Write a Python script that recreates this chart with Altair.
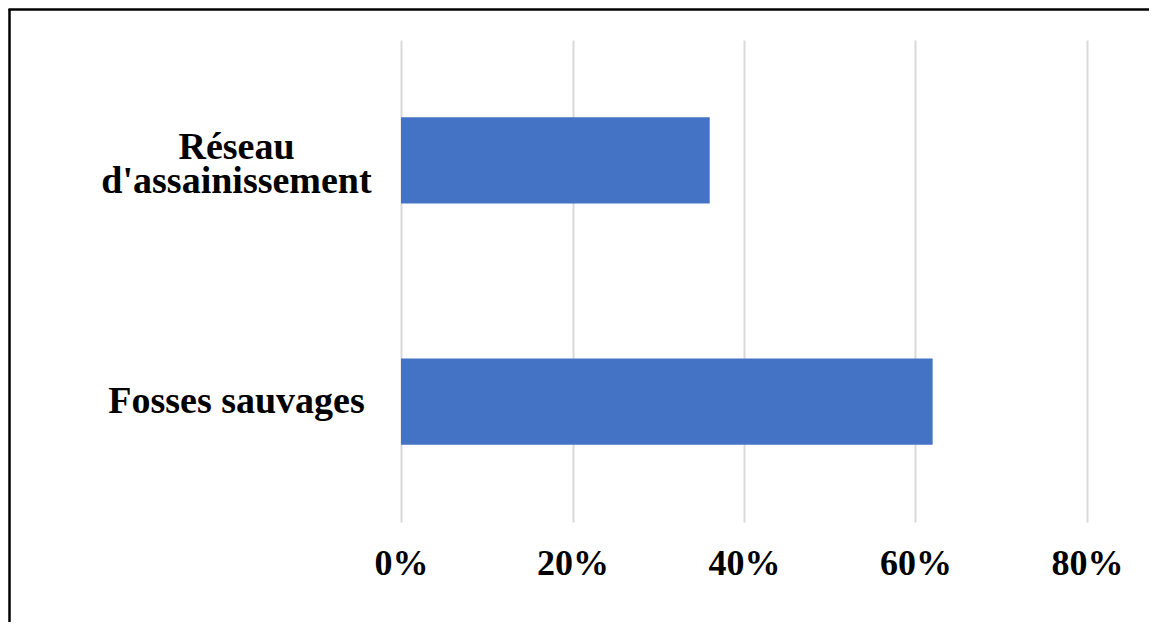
import altair as alt
import pandas as pd

categories = ["Réseau\nd'assainissement", "Fosses sauvages"]
values = [0.36, 0.62]
tick_values = [0, 0.2, 0.4, 0.6, 0.8]

df = pd.DataFrame({"cat": categories, "val": values})

FONT = "Liberation Serif"

bars = alt.Chart(df).mark_bar(color="#4472C4").encode(
    x=alt.X(
        "val:Q",
        scale=alt.Scale(domain=[0, 0.8], nice=False),
        axis=alt.Axis(
            values=tick_values,
            format=".0%",
            title=None,
            domain=False,
            ticks=False,
            grid=True,
            gridColor="#d9d9d9",
            gridWidth=2,
            labelFont=FONT,
            labelFontSize=36,
            labelFontWeight="bold",
            labelColor="#000000",
            labelPadding=24,
            labelFlush=False,
        ),
    ),
    y=alt.Y(
        "cat:N",
        sort=categories,
        scale=alt.Scale(paddingInner=0.643, paddingOuter=0.32),
        axis=alt.Axis(
            title=None,
            domain=False,
            ticks=False,
            grid=False,
            labelExpr="split(datum.label, '\\n')",
            labelFont=FONT,
            labelFontSize=38,
            labelFontWeight="bold",
            labelColor="#000000",
            labelAlign="center",
            labelBaseline="middle",
            labelLineHeight=34,
            labelPadding=165,
            labelLimit=400,
            labelOffset={
                "condition": {"test": "indexof(datum.label, 'Réseau') >= 0", "value": -12},
                "value": 0,
            },
        ),
    ),
)

frame_df = pd.DataFrame({"a": [0]})
frame_left = alt.Chart(frame_df).mark_rule(color="#000000", strokeWidth=2.5).encode(
    x=alt.value(-391.5), y=alt.value(-31), y2=alt.value(640)
)
frame_top = alt.Chart(frame_df).mark_rule(color="#000000", strokeWidth=2.5).encode(
    x=alt.value(-392.5), x2=alt.value(800), y=alt.value(-30.5)
)

chart = (
    alt.layer(bars, frame_left, frame_top)
    .properties(
        width=686,
        height=482,
        autosize=alt.AutoSizeParams(type="none"),
        padding={"left": 393, "top": 32, "right": 62, "bottom": 100},
        background="#ffffff",
    )
    .configure_view(stroke=None)
)

chart.save("out.html", embed_options={"renderer": "svg", "actions": False})
